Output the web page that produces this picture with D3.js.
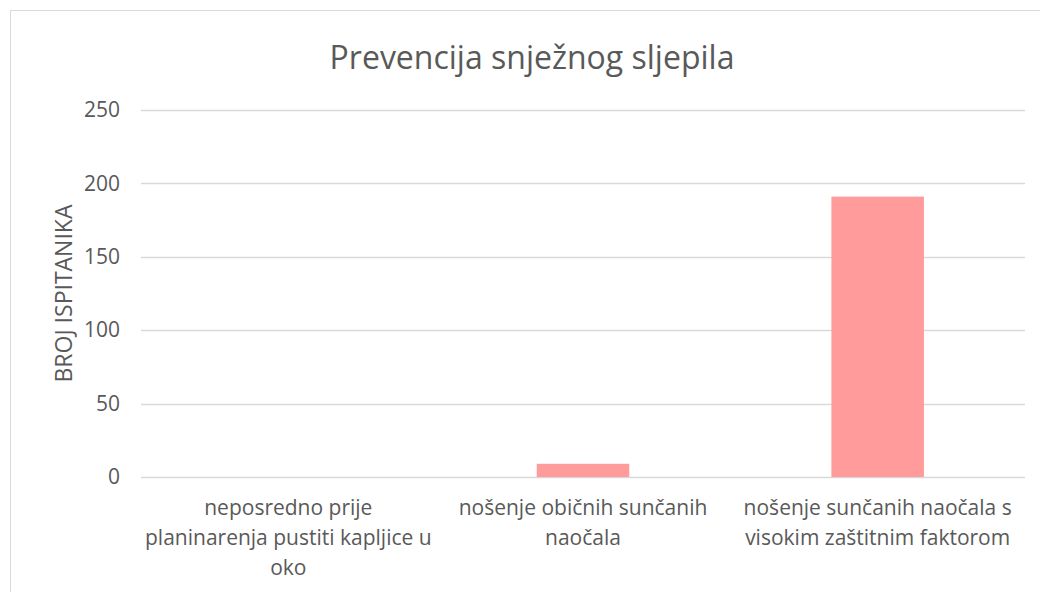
<!DOCTYPE html>
<html>
<head>
<meta charset="utf-8">
<script src="https://cdn.jsdelivr.net/npm/d3@7"></script>
<style>
  body { margin: 0; background: #fff; }
  text { font-family: "Open Sans", sans-serif; fill: #595959; }
</style>
</head>
<body>
<div id="chart"></div>
<script>
var title = "Prevencija snježnog sljepila";
var yTitle = "BROJ ISPITANIKA";
var categories = [
    "neposredno prije planinarenja pustiti kapljice u oko",
    "nošenje običnih sunčanih naočala",
    "nošenje sunčanih naočala s visokim zaštitnim faktorom"
];
var values = [0, 9, 191];
var yTicks = [0, 50, 100, 150, 200, 250];

var width = 1040, height = 592;
var margin = {top: 110, right: 15, bottom: 115, left: 141};

var svg = d3.select("#chart")
    .append("svg")
    .attr("width", width)
    .attr("height", height);

// chart frame
svg.append("rect")
    .attr("x", 10.5)
    .attr("y", 10.5)
    .attr("width", width)
    .attr("height", height)
    .attr("fill", "none")
    .attr("stroke", "#d9d9d9");

var x = d3.scaleBand()
    .domain(categories)
    .range([margin.left, width - margin.right])
    .paddingInner(0.686)
    .paddingOuter(0.343);

var y = d3.scaleLinear()
    .domain([0, 250])
    .range([height - margin.bottom, margin.top]);

// gridlines
svg.append("g")
    .selectAll("line")
    .data(yTicks)
    .enter()
    .append("line")
    .attr("x1", margin.left)
    .attr("x2", width - margin.right)
    .attr("y1", function (d) { return Math.round(y(d)) + 0.5; })
    .attr("y2", function (d) { return Math.round(y(d)) + 0.5; })
    .attr("stroke", "#d9d9d9")
    .attr("stroke-width", 1.5);

// y axis labels
var yAxis = svg.append("g")
    .attr("transform", "translate(" + (margin.left - 21) + ",0)")
    .call(d3.axisLeft(y).tickValues(yTicks).tickSize(0).tickPadding(0));
yAxis.select(".domain").remove();
yAxis.selectAll("text")
    .style("font-size", "21px")
    .attr("fill", "#595959");

// bars
svg.append("g")
    .selectAll("rect")
    .data(values)
    .enter()
    .append("rect")
    .attr("x", function (d, i) { return x(categories[i]); })
    .attr("width", x.bandwidth())
    .attr("y", function (d) { return y(d); })
    .attr("height", function (d) { return y(0) - y(d); })
    .attr("fill", "#ff9b9b");

// x labels, wrapped to band width
var step = x.step();
var xLabels = svg.append("g")
    .selectAll("text")
    .data(categories)
    .enter()
    .append("text")
    .attr("text-anchor", "middle")
    .style("font-size", "21px")
    .attr("x", function (d) { return x(d) + x.bandwidth() / 2; })
    .attr("y", 515);

xLabels.each(function (d) {
    var el = d3.select(this);
    var words = d.split(" ");
    var lines = [];
    var line = [];
    var cx = el.attr("x");
    var probe = el.append("tspan");
    words.forEach(function (w) {
        line.push(w);
        probe.text(line.join(" "));
        if (probe.node().getComputedTextLength() > step - 6 && line.length > 1) {
            line.pop();
            lines.push(line.join(" "));
            line = [w];
        }
    });
    lines.push(line.join(" "));
    probe.remove();
    lines.forEach(function (l, i) {
        el.append("tspan")
            .attr("x", cx)
            .attr("dy", i === 0 ? 0 : 30)
            .text(l);
    });
});

// title
svg.append("text")
    .attr("x", 532)
    .attr("y", 69)
    .attr("text-anchor", "middle")
    .style("font-size", "32px")
    .text(title);

// y axis title
svg.append("text")
    .attr("transform", "translate(72," + ((y(0) + y(250)) / 2) + ") rotate(-90)")
    .attr("text-anchor", "middle")
    .style("font-size", "23px")
    .text(yTitle);
</script>
</body>
</html>
